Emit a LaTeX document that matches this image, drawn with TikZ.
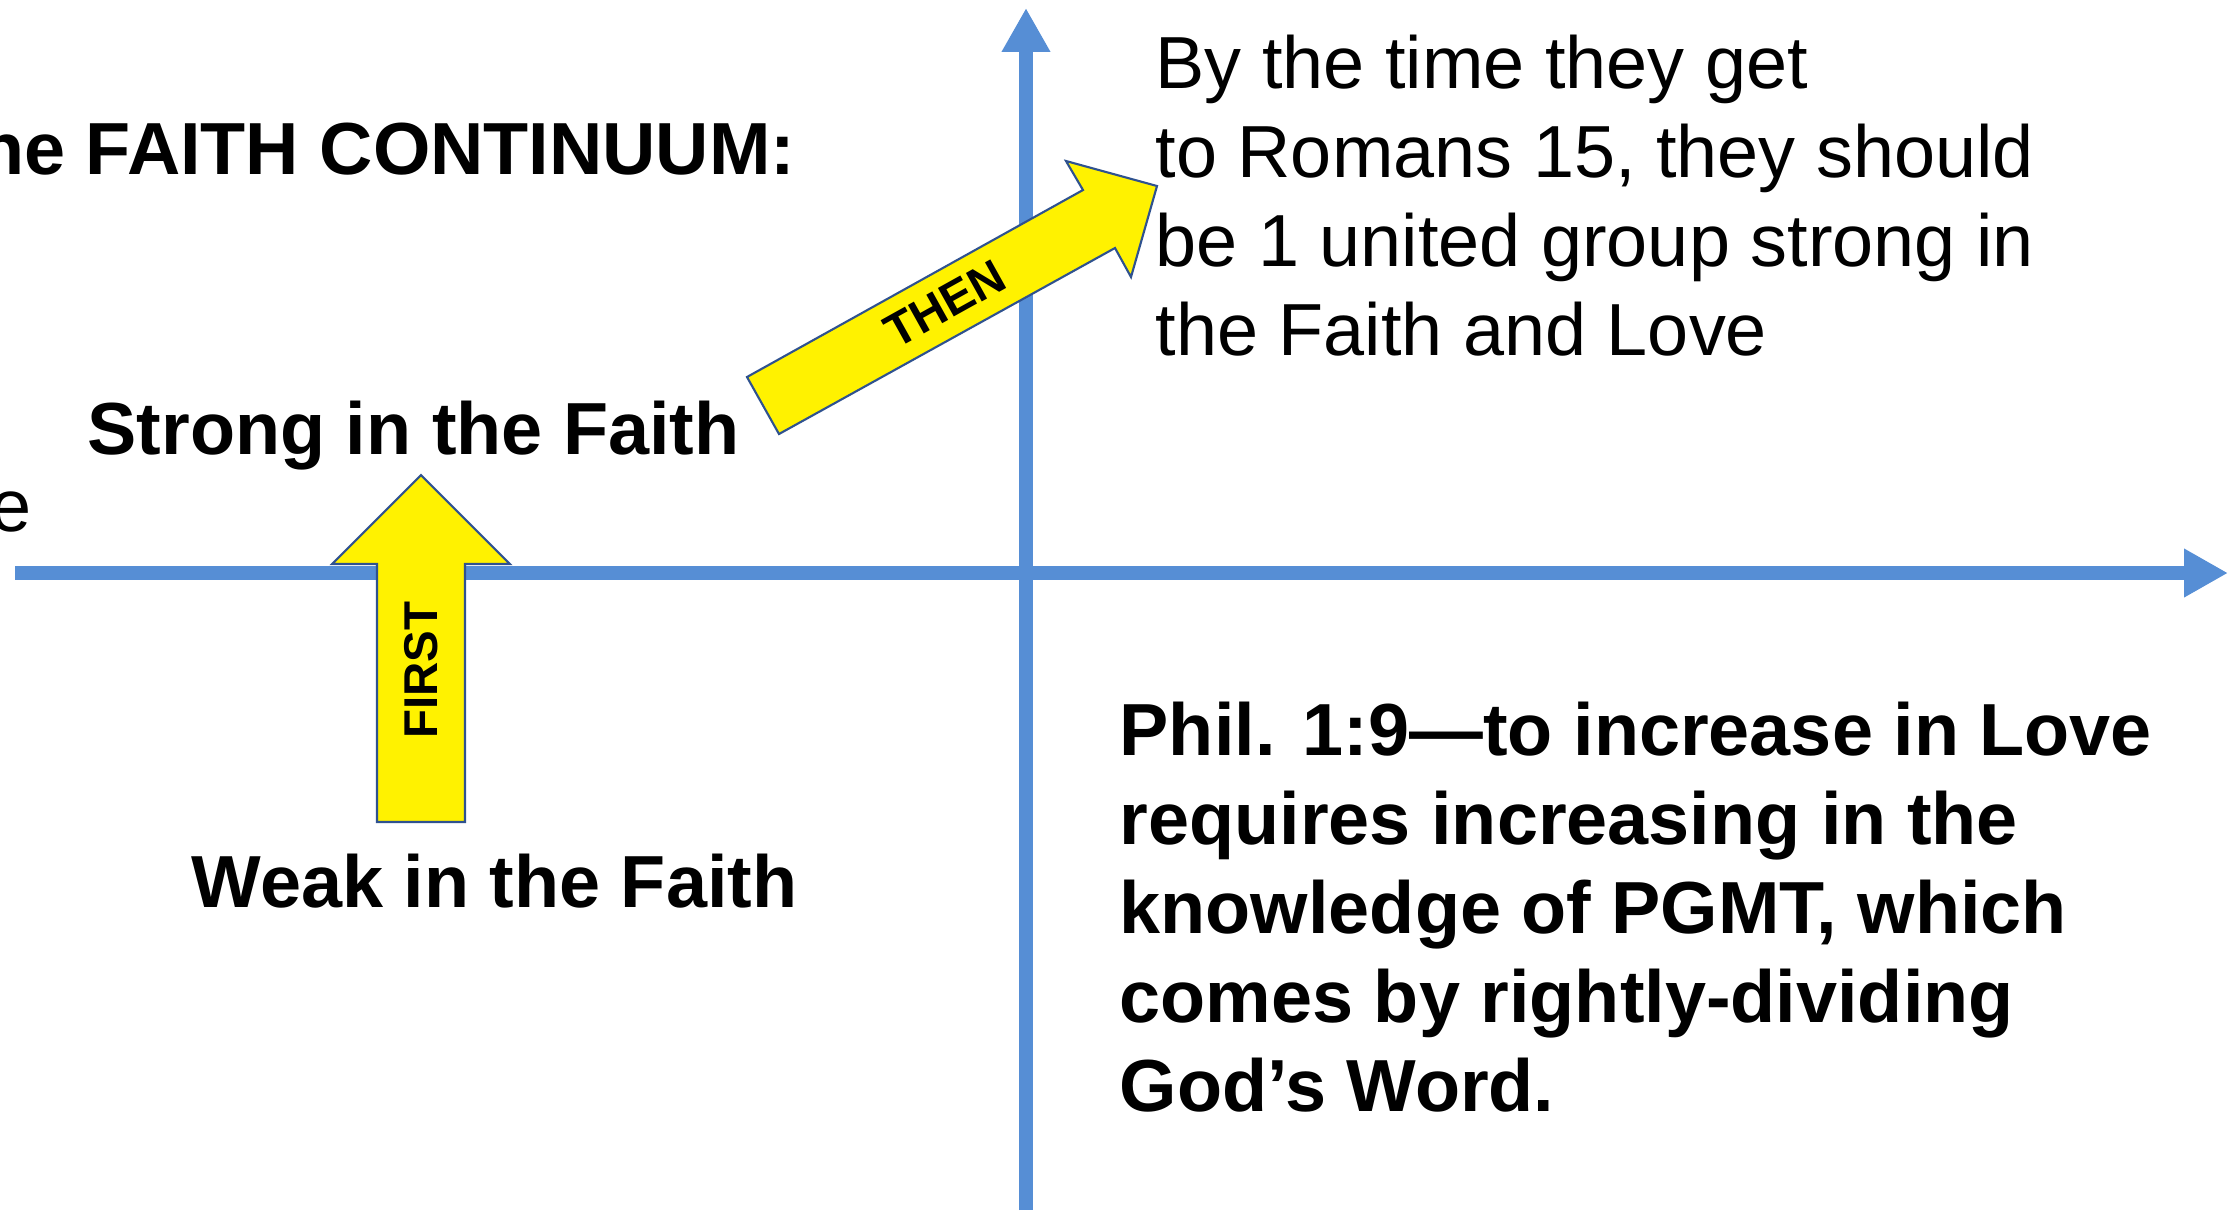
\documentclass[tikz,border=0pt]{standalone}
\usepackage{fontspec}
\setmainfont{Liberation Sans}
\usetikzlibrary{arrows.meta}
\definecolor{axisblue}{RGB}{86,142,213}
\definecolor{arrowedge}{RGB}{47,82,143}
\begin{document}
\begin{tikzpicture}[x=0.1mm, y=-0.1mm, line join=miter,
  axis/.style={draw=axisblue, line width=4.2pt, -{Triangle[width=13pt,length=12.5pt]}},
  blockarrow/.style={draw=arrowedge, line width=0.6pt, fill=yellow},
  big/.style={inner sep=0pt, font=\fontsize{21}{25.3}\selectfont},
  bigbold/.style={inner sep=0pt, font=\fontsize{21}{25.3}\selectfont\bfseries},
  tag/.style={inner sep=0pt, font=\fontsize{13.5}{16}\selectfont\bfseries}]
  \useasboundingbox (0,0) rectangle (2228,1210);
  \clip (0,0) rectangle (2228,1210);
  \coordinate (xl) at (15,573);
  \coordinate (xr) at (2228,573);
  \coordinate (yb) at (1026,1210);
  \coordinate (yt) at (1026,8);
  \draw[axis] (xl) -- (xr);
  \draw[axis] (yb) -- (yt);
  \draw[blockarrow] (377,822) -- (465,822) -- (465,564) -- (510,564) -- (421,475) -- (332,564) -- (377,564) -- cycle;
  \node[tag, rotate=90] (first) at (421,670) {FIRST};
  \draw[blockarrow] (747,377) -- (779,434) -- (1115,248) -- (1131,277) -- (1157,186) -- (1066,161) -- (1083,190) -- cycle;
  \node[tag, rotate=29.1] (then) at (945,304) {THEN};
  \node[bigbold, anchor=base east] (title) at (796,174) {The FAITH CONTINUUM:};
  \node[bigbold, anchor=base west] (strong) at (87,454) {Strong in the Faith};
  \node[bigbold, anchor=base west] (weak) at (191,907) {Weak in the Faith};
  \node[big, anchor=base east] (cut) at (32,531) {e};
  \node[big, anchor=base west, align=left] (goal) at (1155,355)
    {By the time they get\\to Romans 15, they should\\be 1 united group strong in\\the Faith and Love};
  \node[bigbold, anchor=base west, align=left] (phil) at (1119,1111)
    {Phil. 1:9—to increase in Love\\requires increasing in the\\knowledge of PGMT, which\\comes by rightly-dividing\\God’s Word.};
\end{tikzpicture}
\end{document}
